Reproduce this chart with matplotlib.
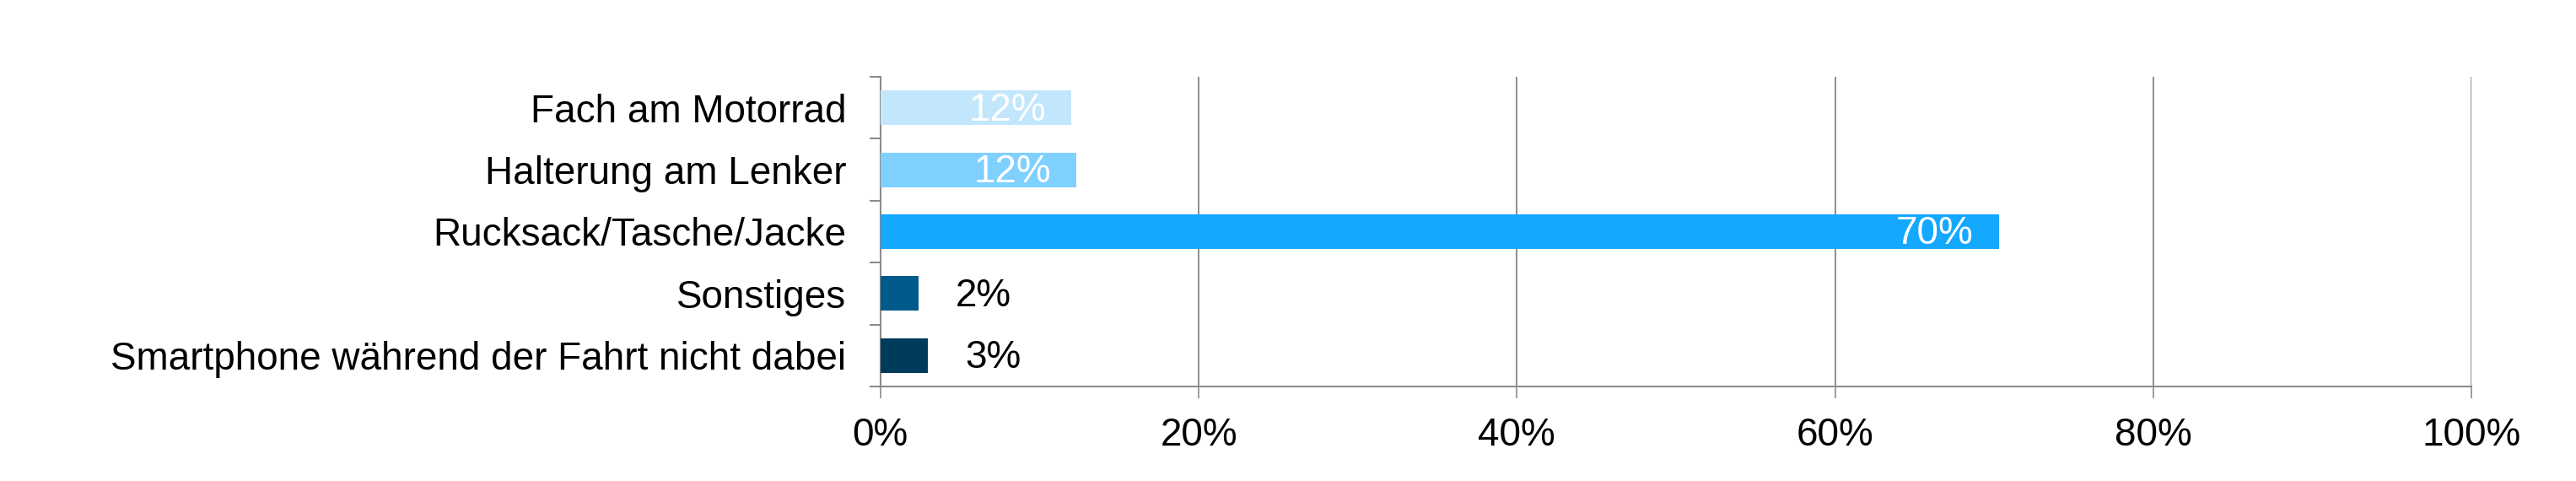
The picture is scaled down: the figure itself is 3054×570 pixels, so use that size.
import numpy as np
from matplotlib import pyplot as plt

categories = ["Fach am Motorrad",
              "Halterung am Lenker",
              "Rucksack/Tasche/Jacke",
              "Sonstiges",
              "Smartphone während der Fahrt nicht dabei"]
shares = [12.0, 12.3, 70.3, 2.4, 3.0]
share_labels = ["12%", "12%", "70%", "2%", "3%"]
colors = ["#C2E7FC", "#80D0FF", "#14A8FF", "#005A8C", "#003B5C"]
label_inside = [True, True, True, False, False]
xticks = [0, 20, 40, 60, 80, 100]

plt.rcParams["font.family"] = ["Liberation Sans", "DejaVu Sans"]
grey = "#8C8C8C"
fs = 33

fig = plt.figure(figsize=(30.54, 5.70), dpi=100)
ax = fig.add_axes([0.3418, 0.1965, 0.9594 - 0.3418, 0.8404 - 0.1965])

y = np.arange(len(categories))
ax.barh(y, shares, height=0.56, color=colors, zorder=3)

for yi, v, lab, inside in zip(y, shares, share_labels, label_inside):
    if inside:
        ax.annotate(lab, (v, yi), xytext=(-30, -3), textcoords="offset pixels",
                    ha="right", va="center", color="white", fontsize=fs, zorder=4)
    else:
        ax.annotate(lab, (v, yi), xytext=(44, -3), textcoords="offset pixels",
                    ha="left", va="center", color="black", fontsize=fs, zorder=4)

ax.set_xlim(0, 100)
ax.set_ylim(len(categories) - 0.5, -0.5)

ax.set_xticks(xticks)
ax.set_xticklabels([f"{t}%" for t in xticks], fontsize=fs)
ax.set_yticks(y)
ax.set_yticklabels(categories, fontsize=fs)
ax.set_yticks(np.arange(len(categories) + 1) - 0.5, minor=True)

ax.tick_params(axis="y", which="major", length=0, pad=29)
ax.tick_params(axis="y", which="minor", length=9.5, width=1.5, color=grey, direction="out")
ax.tick_params(axis="x", length=10, width=1.2, color=grey, direction="out", pad=16)

ax.grid(axis="x", color=grey, linewidth=1.4, zorder=0)
for s in ["top", "right"]:
    ax.spines[s].set_visible(False)
for s in ["left", "bottom"]:
    ax.spines[s].set_color(grey)
    ax.spines[s].set_linewidth(1.5)
ax.spines["bottom"].set_zorder(5)

plt.savefig("out.png", dpi=100)
